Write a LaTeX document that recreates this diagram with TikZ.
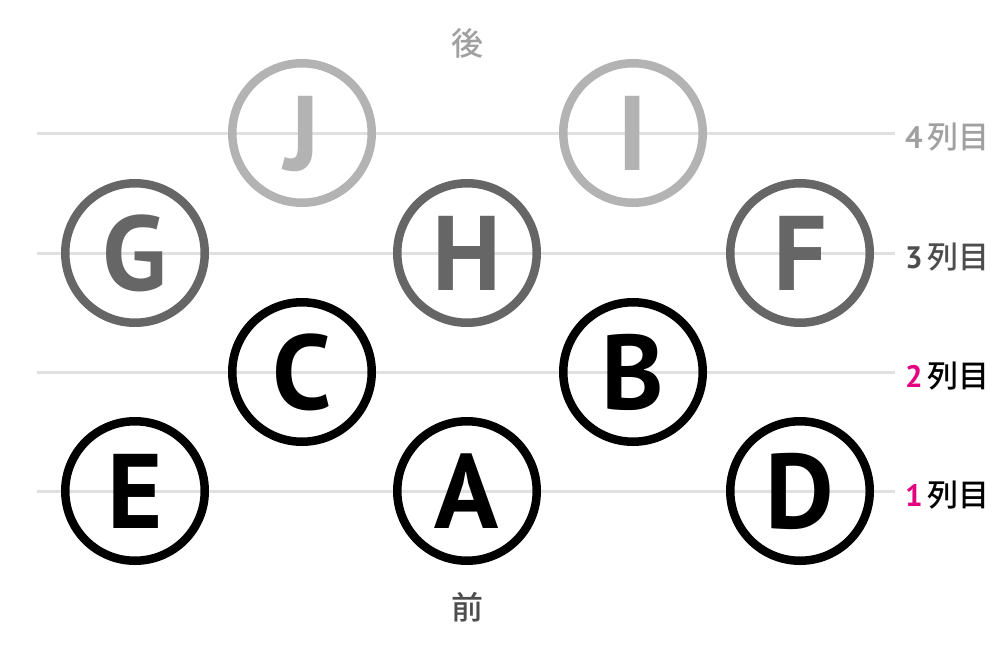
\documentclass[tikz,border=0pt]{standalone}
\usepackage{fontspec}
\setmainfont{PT Sans}
\newfontfamily\cjk{Noto Sans CJK JP}[UprightFont={* Medium}]
\newfontfamily\letterfont{PT Sans}
\definecolor{rowfour}{HTML}{B3B3B3}
\definecolor{rowthree}{HTML}{666666}
\definecolor{guide}{HTML}{E0E0E0}
\definecolor{labfour}{HTML}{A0A0A0}
\definecolor{labthree}{HTML}{4D4D4D}
\definecolor{pinkish}{HTML}{E4007F}
\begin{document}
\begin{tikzpicture}[x=1pt,y=-1pt,
  seat/.style={circle, draw, line width=8.5pt, minimum size=139.5pt, inner sep=0pt,
    font=\letterfont\bfseries\fontsize{106}{106}\selectfont, text height=74pt, text depth=0pt},
  guideline/.style={guide, line width=3pt},
  rowlab/.style={anchor=west, inner sep=0pt, font=\fontsize{31}{31}\selectfont},
  sidetext/.style={inner sep=0pt, font=\cjk\fontsize{32}{32}\selectfont}]
\path[use as bounding box, fill=white] (0,0) rectangle (1000,650);
% guide line starts
\coordinate (s4) at (37,133);
\coordinate (s3) at (37,253);
\coordinate (s2) at (37,372);
\coordinate (s1) at (37,491);
% row labels
\node[rowlab, text=labfour] (lab4) at (905,137) {\textbf{4}\,{\cjk 列目}};
\node[rowlab, text=labthree] (lab3) at (905,257) {\textbf{3}\,{\cjk 列目}};
\node[rowlab] (lab2) at (905,376) {\textcolor{pinkish}{\textbf{2}}\,{\cjk 列目}};
\node[rowlab] (lab1) at (905,495) {\textcolor{pinkish}{\textbf{1}}\,{\cjk 列目}};
% guide lines
\draw[guideline] (s4) -- ([xshift=-10pt]s4 -| lab4.west);
\draw[guideline] (s3) -- ([xshift=-10pt]s3 -| lab3.west);
\draw[guideline] (s2) -- ([xshift=-10pt]s2 -| lab2.west);
\draw[guideline] (s1) -- ([xshift=-10pt]s1 -| lab1.west);
% seats
\node[seat, draw=rowfour, text=rowfour] (J) at (302,133) {J};
\node[seat, draw=rowfour, text=rowfour] (I) at (633,133) {I};
\node[seat, draw=rowthree, text=rowthree] (G) at (135,253) {G};
\node[seat, draw=rowthree, text=rowthree] (H) at (467,253) {H};
\node[seat, draw=rowthree, text=rowthree] (F) at (800,253) {F};
\node[seat, draw=black, text=black] (C) at (302,372) {C};
\node[seat, draw=black, text=black] (B) at (633,372) {B};
\node[seat, draw=black, text=black] (E) at (135,491) {E};
\node[seat, draw=black, text=black] (A) at (467,491) {A};
\node[seat, draw=black, text=black] (D) at (800,491) {D};
% front/back
\node[sidetext, text=labfour] (back) at (467,43) {後};
\node[sidetext, text=labthree] (front) at (467,607) {前};
\end{tikzpicture}
\end{document}
